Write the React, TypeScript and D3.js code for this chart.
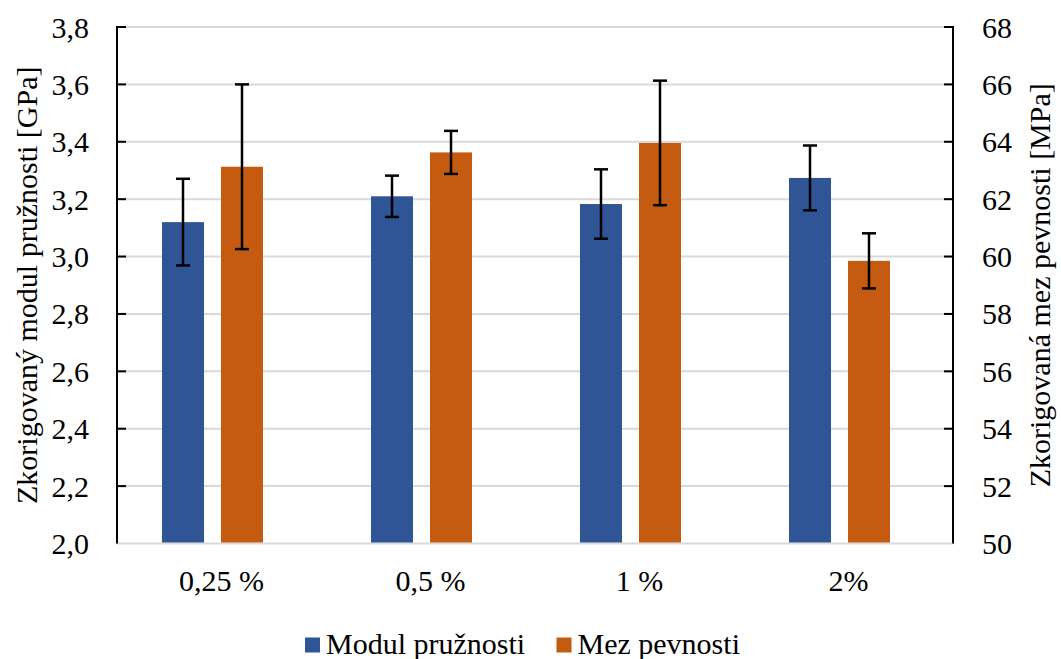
import React from "react";
import * as d3 from "d3";

const categories = ["0,25 %", "0,5 %", "1 %", "2%"];
const modulValues = [3.12, 3.21, 3.183, 3.274];
const modulErrors = [0.151, 0.072, 0.121, 0.113];
const mezValues = [63.13, 63.63, 63.96, 59.85];
const mezErrors = [2.87, 0.75, 2.17, 0.96];
const leftTicks = [2.0, 2.2, 2.4, 2.6, 2.8, 3.0, 3.2, 3.4, 3.6, 3.8];
const rightTicks = [50, 52, 54, 56, 58, 60, 62, 64, 66, 68];
const seriesNames = ["Modul pružnosti", "Mez pevnosti"];

const BLUE = "#2F5597";
const ORANGE = "#C55A11";
const FONT = "'Liberation Serif', 'Times New Roman', serif";

export default function App() {
  const W = 1061, H = 659;
  const left = 117, right = 953, top = 27, bottom = 543.5;
  const x = d3.scaleBand<string>().domain(categories).range([left, right]);
  const yL = d3.scaleLinear().domain([2.0, 3.8]).range([bottom, top]);
  const yR = d3.scaleLinear().domain([50, 68]).range([bottom, top]);
  const barW = 42;
  const blueOff = -38.5;
  const orangeOff = 20.5;
  const cap = 7;
  const fmt = (v: number) => v.toFixed(1).replace(".", ",");

  return (
    <svg width={W} height={H} style={{ position: "absolute", left: 0, top: 0, background: "#fff" }} fontFamily={FONT}>
      {/* gridlines */}
      {leftTicks.slice(1).map((t) => (
        <line key={"g" + t} x1={left} x2={right} y1={yL(t)} y2={yL(t)} stroke="#d9d9d9" strokeWidth={2} />
      ))}
      {/* bottom axis line */}
      <line x1={left - 1} x2={right} y1={bottom} y2={bottom} stroke="#d9d9d9" strokeWidth={2} />
      {/* bars */}
      {categories.map((c, i) => {
        const cx = (x(c) as number) + x.bandwidth() / 2;
        const bx = cx + blueOff;
        const ox = cx + orangeOff;
        const bTop = yL(modulValues[i]);
        const oTop = yR(mezValues[i]);
        return (
          <g key={c}>
            <rect x={bx - barW / 2} y={bTop} width={barW} height={bottom - 1 - bTop} fill={BLUE} />
            <rect x={ox - barW / 2} y={oTop} width={barW} height={bottom - 1 - oTop} fill={ORANGE} />
          </g>
        );
      })}
      {/* error bars */}
      {categories.map((c, i) => {
        const cx = (x(c) as number) + x.bandwidth() / 2;
        const bx = cx + blueOff;
        const ox = cx + orangeOff;
        const b1 = yL(modulValues[i] + modulErrors[i]);
        const b2 = yL(modulValues[i] - modulErrors[i]);
        const o1 = yR(mezValues[i] + mezErrors[i]);
        const o2 = yR(mezValues[i] - mezErrors[i]);
        return (
          <g key={"e" + c} stroke="#000" strokeWidth={2.5}>
            <line x1={bx} x2={bx} y1={b1} y2={b2} />
            <line x1={bx - cap} x2={bx + cap} y1={b1} y2={b1} />
            <line x1={bx - cap} x2={bx + cap} y1={b2} y2={b2} />
            <line x1={ox} x2={ox} y1={o1} y2={o2} />
            <line x1={ox - cap} x2={ox + cap} y1={o1} y2={o1} />
            <line x1={ox - cap} x2={ox + cap} y1={o2} y2={o2} />
          </g>
        );
      })}
      {/* left axis */}
      <line x1={left} x2={left} y1={top - 1} y2={bottom} stroke="#000" strokeWidth={2} />
      {leftTicks.slice(1).map((t) => (
        <line key={"lt" + t} x1={left} x2={left + 9} y1={yL(t)} y2={yL(t)} stroke="#000" strokeWidth={2} />
      ))}
      {leftTicks.map((t) => (
        <text key={"ll" + t} x={89} y={yL(t) + 10.5} textAnchor="end" fontSize={30} fill="#000">
          {fmt(t)}
        </text>
      ))}
      {/* right axis */}
      <line x1={right} x2={right} y1={top - 1} y2={bottom} stroke="#000" strokeWidth={2} />
      {rightTicks.slice(1).map((t) => (
        <line key={"rt" + t} x1={right - 9} x2={right} y1={yR(t)} y2={yR(t)} stroke="#000" strokeWidth={2} />
      ))}
      {rightTicks.map((t) => (
        <text key={"rl" + t} x={982} y={yR(t) + 10.5} textAnchor="start" fontSize={30} fill="#000">
          {t}
        </text>
      ))}
      {/* category labels */}
      {categories.map((c) => (
        <text key={"c" + c} x={(x(c) as number) + x.bandwidth() / 2} y={591} textAnchor="middle" fontSize={30} fill="#000">
          {c}
        </text>
      ))}
      {/* axis titles */}
      <text transform={`translate(37, ${(top + bottom) / 2}) rotate(-90)`} textAnchor="middle" fontSize={30} fill="#000">
        Zkorigovaný modul pružnosti [GPa]
      </text>
      <text transform={`translate(1050, ${(top + bottom) / 2}) rotate(-90)`} textAnchor="middle" fontSize={30} fill="#000">
        Zkorigovaná mez pevnosti [MPa]
      </text>
      {/* legend */}
      <rect x={305} y={637.5} width={15} height={15} fill={BLUE} />
      <text x={326} y={654} fontSize={30} fill="#000">{seriesNames[0]}</text>
      <rect x={556.5} y={637.5} width={15} height={15} fill={ORANGE} />
      <text x={577.5} y={654} fontSize={30} fill="#000">{seriesNames[1]}</text>
    </svg>
  );
}
